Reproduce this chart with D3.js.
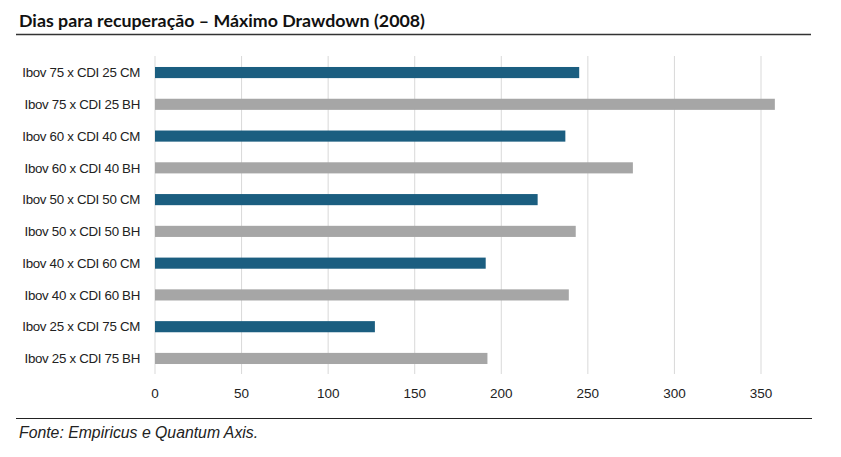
<!DOCTYPE html>
<html><head><meta charset="utf-8">
<script src="https://cdn.jsdelivr.net/npm/d3@7"></script>
<style>body{margin:0;background:#fff}svg{display:block}</style>
</head><body><svg id="c" width="841" height="457"></svg>
<script>
const categories = ["Ibov 75 x CDI 25 CM","Ibov 75 x CDI 25 BH","Ibov 60 x CDI 40 CM","Ibov 60 x CDI 40 BH","Ibov 50 x CDI 50 CM","Ibov 50 x CDI 50 BH","Ibov 40 x CDI 60 CM","Ibov 40 x CDI 60 BH","Ibov 25 x CDI 75 CM","Ibov 25 x CDI 75 BH"];
const values = [245, 358, 237, 276, 221, 243, 191, 239, 127, 192];
const tickValues = [0, 50, 100, 150, 200, 250, 300, 350];
const title = "Dias para recuperação – Máximo Drawdown (2008)";
const source = "Fonte: Empiricus e Quantum Axis.";
const colorCM = "#1b5e80", colorBH = "#a6a6a6";

const svg = d3.select("#c");
const x = d3.scaleLinear().domain([0, 350]).range([155, 761]);
const y = d3.scaleBand().domain(categories).range([56.5, 374.5]).paddingInner(0.65).paddingOuter(0.33);

svg.append("text").attr("x", 19).attr("y", 27).attr("font-family", "Lato").attr("font-weight", "bold")
  .attr("font-size", 17.8).attr("fill", "#111").text(title);
svg.append("line").attr("x1", 16).attr("x2", 811).attr("y1", 34.5).attr("y2", 34.5).attr("stroke", "#333").attr("stroke-width", 1.5);

const gx = svg.append("g");
gx.selectAll("line").data(tickValues).join("line")
  .attr("x1", d => x(d)).attr("x2", d => x(d)).attr("y1", 56).attr("y2", 374)
  .attr("stroke", "#d9d9d9").attr("stroke-width", 1);
gx.selectAll("text").data(tickValues).join("text")
  .attr("x", d => x(d)).attr("y", 398).attr("text-anchor", "middle")
  .attr("font-family", "Liberation Sans").attr("font-size", 13.5).attr("fill", "#222").text(d => d);

svg.append("g").selectAll("rect").data(categories).join("rect")
  .attr("x", x(0)).attr("y", d => y(d)).attr("height", y.bandwidth())
  .attr("width", (d, i) => x(values[i]) - x(0))
  .attr("fill", d => d.endsWith("CM") ? colorCM : colorBH);

svg.append("g").selectAll("text").data(categories).join("text")
  .attr("x", 140).attr("y", d => y(d) + y.bandwidth() / 2).attr("dy", "0.35em").attr("text-anchor", "end")
  .attr("font-family", "Liberation Sans").attr("font-size", 13.3).attr("letter-spacing", -0.3)
  .attr("fill", "#222").text(d => d);

svg.append("line").attr("x1", 16).attr("x2", 812).attr("y1", 418.5).attr("y2", 418.5).attr("stroke", "#222").attr("stroke-width", 1.2);
svg.append("text").attr("x", 19).attr("y", 438).attr("font-family", "Liberation Sans").attr("font-style", "italic")
  .attr("font-size", 15.8).attr("fill", "#222").text(source);
</script></body></html>
